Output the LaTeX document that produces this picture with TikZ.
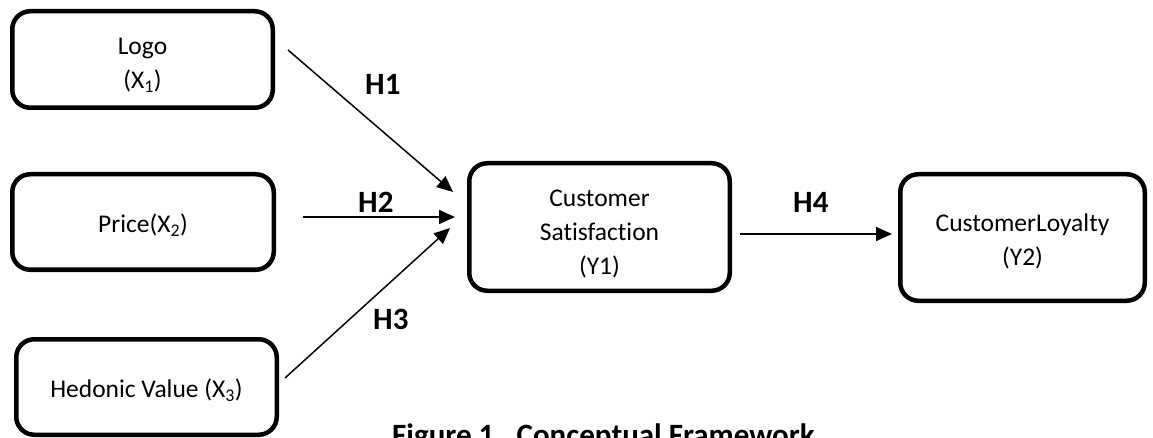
\documentclass[tikz,border=0pt]{standalone}
\usepackage{fontspec}
\setmainfont{Carlito}[Ligatures=NoCommon]
\usetikzlibrary{arrows.meta}
\begin{document}
\begin{tikzpicture}[x=1pt,y=-1pt,
  box/.style={draw, line width=4.5pt, rounded corners=18pt, inner sep=0pt},
  boxtext/.style={align=center, font=\fontsize{25.5}{34}\selectfont, inner sep=0pt},
  link/.style={line width=1.5pt, -{Triangle[length=16pt,width=14pt]}},
  hlabel/.style={font=\bfseries\fontsize{31}{36}\selectfont, anchor=base west, inner sep=0pt}]
\useasboundingbox (0,0) rectangle (1153,438);
\clip (0,0) rectangle (1153,438);
\node[box, minimum width=260.5pt, minimum height=96.5pt,
  label={[boxtext,yshift=-5.7pt]center:Logo\\(X\textsubscript{1})}] (logo) at (142.5,59.5) {};
\node[box, minimum width=261.5pt, minimum height=95.5pt,
  label={[boxtext,yshift=-3pt]center:Price(X\textsubscript{2})}] (price) at (143,222) {};
\node[box, minimum width=260.5pt, minimum height=95.5pt,
  label={[boxtext,yshift=-3pt]center:Hedonic Value (X\textsubscript{3})}] (hed) at (146.5,387) {};
\node[box, minimum width=260.5pt, minimum height=127.5pt,
  label={[boxtext,yshift=-7pt]center:Customer\\Satisfaction\\(Y1)}] (cs) at (599.5,227) {};
\node[box, minimum width=244.5pt, minimum height=126.5pt,
  label={[boxtext,yshift=-4pt]center:CustomerLoyalty\\(Y2)}] (cl) at (1022.5,237.5) {};
\draw[link] ([shift={(13,-9.5)}]logo.east) -- ([shift={(-14,-35)}]cs.west);
\draw[link] ([shift={(27,-5)}]price.east) -- ([shift={(-12,-10)}]cs.west);
\draw[link] ([shift={(6,-9)}]hed.east) -- ([shift={(-17,1)}]cs.west);
\draw[link] ([shift={(8,7)}]cs.east) -- ([shift={(-6,-3.5)}]cl.west);
\node[hlabel] (h1) at (365,95) {H1};
\node[hlabel] (h2) at (358,213) {H2};
\node[hlabel] (h3) at (373,329) {H3};
\node[hlabel] (h4) at (793,213) {H4};
\node[hlabel] (cap) at (392,445) {Figure 1.\ \ Conceptual Framework};
\end{tikzpicture}
\end{document}
